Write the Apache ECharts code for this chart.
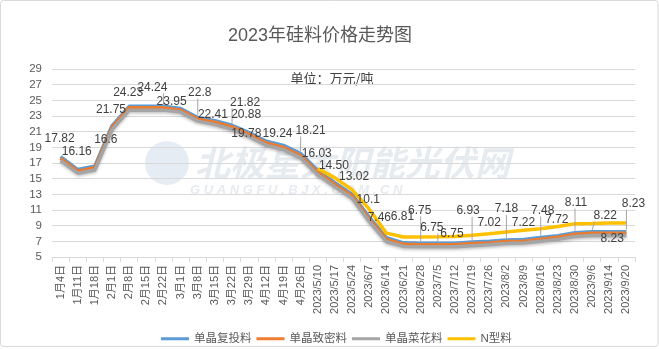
<!DOCTYPE html>
<html><head><meta charset="utf-8">
<script src="https://cdn.jsdelivr.net/npm/echarts/dist/echarts.min.js"></script>
<style>html,body{margin:0;padding:0;background:#fff}#c{width:659px;height:349px}</style>
</head><body><div id="c"></div>
<script>
const categories = ['1月4日','1月11日','1月18日','2月1日','2月8日','2月15日','2月22日','3月1日','3月8日','3月15日','3月22日','3月29日','4月12日','4月19日','4月26日','2023/5/10','2023/5/17','2023/5/24','2023/6/7','2023/6/14','2023/6/21','2023/6/28','2023/7/5','2023/7/12','2023/7/19','2023/7/26','2023/8/2','2023/8/9','2023/8/16','2023/8/23','2023/8/30','2023/9/6','2023/9/14','2023/9/20'];
const seriesNames = ['单晶复投料','单晶致密料','单晶菜花料','N型料'];
const fuTou = [17.82,16.16,16.6,21.75,24.23,24.24,24.24,23.95,22.8,22.41,21.82,20.88,19.78,19.24,18.21,16.03,14.50,13.02,10.1,7.46,6.81,6.75,6.75,6.75,6.93,7.02,7.18,7.22,7.48,7.72,8.11,8.22,8.23,8.23];
const zhiMi = [17.6,15.95,16.4,21.55,24.05,24.05,24.05,23.75,22.6,22.2,21.6,20.65,19.55,19.0,17.95,15.8,14.25,12.8,9.85,7.25,6.62,6.55,6.55,6.56,6.72,6.8,6.98,7.02,7.27,7.52,7.9,8.02,8.03,8.03];
const caiHua = [17.3,15.7,16.1,21.25,23.75,23.75,23.75,23.5,22.35,21.9,21.3,20.35,19.25,18.7,17.65,15.5,13.95,12.5,9.55,6.95,6.35,6.3,6.3,6.3,6.45,6.55,6.72,6.78,7.0,7.25,7.62,7.75,7.76,7.76];
const nType = [null,null,null,null,null,null,null,null,null,null,null,null,null,null,null,16.3,15.1,13.6,11.1,8.05,7.55,7.55,7.58,7.62,7.78,7.98,8.2,8.4,8.6,8.9,9.25,9.28,9.33,9.33];
const labelText = ['17.82','16.16','16.6','21.75','24.23','','24.24','23.95','22.8','22.41','21.82','20.88','19.78','19.24','18.21','16.03','14.50','13.02','10.1','7.46','6.81','6.75','6.75','6.75','6.93','7.02','7.18','7.22','7.48','7.72','8.11','8.22','8.23','8.23'];
const yTicks = {min:5, max:29, interval:2};

// label placement (style only)
const LABEL_OFFSETS = [[-1,-17.5],[-1,-17.5],[11,-26],[-1,-16],[-1,-14],[0,0],[-11,-19],[-9,-7],[2,-25],[-2,-6],[13,-23],[-3,-18],[-20,-8],[-6,-12],[10,-23],[-1,-17],[-1,-17],[2,-17],[-1,-17],[-7,-20],[-1,-26],[-1,-33],[-6,-16],[-3,-10],[-4,-31],[0,-18],[0,-31],[0,-17],[2,-27],[-1,-16],[1,-30],[13,-16],[3,7],[7,-28]];
const LEADERS = [6,8,10,14,21,22,24,26,28,30,31,33];

const FONT = "'Liberation Sans','Noto Sans CJK SC',sans-serif";
const chart = echarts.init(document.getElementById('c'), null, {renderer:'canvas'});
const colors = ['#5b9bd5','#ed7d31','#a5a5a5','#ffc000'];
function lineSeries(name, data, color, extra){
  return Object.assign({
    name, type:'line', data, symbol:'none', smooth:false, connectNulls:false,
    lineStyle:{color, width:3.5}, itemStyle:{color}, z:2, silent:true
  }, extra||{});
}
chart.setOption({
  animation:false,
  backgroundColor:'#fff',
  grid:{left:52, right:24, top:69, bottom:92, containLabel:false, outerBoundsMode:'none'},
  legend:{data:seriesNames.map(n=>({name:n, icon:'rect'})), left:156, top:328, itemWidth:28, itemHeight:3, itemGap:5,
    textStyle:{color:'#595959', fontSize:11.5, fontFamily:FONT}},
  xAxis:{type:'category', data:categories, boundaryGap:true,
    axisLine:{lineStyle:{color:'#d9d9d9'}},
    axisTick:{show:true, length:5, lineStyle:{color:'#d9d9d9'}},
    axisLabel:{interval:0, rotate:90, margin:8, color:'#595959', fontSize:11, fontFamily:FONT}},
  yAxis:{type:'value', min:yTicks.min, max:yTicks.max, interval:yTicks.interval,
    axisLine:{show:false}, axisTick:{show:false},
    splitLine:{lineStyle:{color:'#d9d9d9'}},
    axisLabel:{margin:10, color:'#595959', fontSize:11.5, fontFamily:FONT}},
  graphic:[
    {type:'rect', shape:{x:0.5,y:0.5,width:657.5,height:346,r:3}, style:{fill:'none', stroke:'#d9d9d9', lineWidth:1}, z:-1, silent:true},
    {type:'circle', shape:{cx:167, cy:163, r:22}, style:{fill:'rgba(200,212,228,0.45)'}, z:0, silent:true},
    {type:'text', style:{x:195, y:163, text:'北极星太阳能光伏网', font:"italic bold 35px 'Noto Sans CJK SC'", fill:'rgba(200,210,222,0.45)', verticalAlign:'middle'}, z:0, silent:true},
    {type:'text', style:{x:190, y:190, text:'G U A N G F U . B J X . C O M . C N', font:"italic bold 13px 'Liberation Sans'", fill:'rgba(200,210,222,0.45)', verticalAlign:'middle'}, z:0, silent:true},
    {type:'text', style:{x:320, y:36, text:'2023年硅料价格走势图', font:"18px 'Liberation Sans','Noto Sans CJK SC'", fill:'#595959', align:'center', verticalAlign:'middle'}, silent:true},
    {type:'text', style:{x:332, y:78, text:'单位：万元/吨', font:"13px 'Noto Sans CJK SC'", fill:'#404040', align:'center', verticalAlign:'middle'}, silent:true}
  ],
  series:[
    lineSeries(seriesNames[0], fuTou, colors[0]),
    lineSeries(seriesNames[1], zhiMi, colors[1]),
    lineSeries(seriesNames[2], caiHua, colors[2], {lineStyle:{color:colors[2], width:3.5, shadowColor:'rgba(0,0,0,0.25)', shadowBlur:3, shadowOffsetY:1.5}}),
    lineSeries(seriesNames[3], nType, colors[3]),
    {
      name:'leaders', type:'custom', z:9, silent:true,
      data: LEADERS.map(i=>[i, fuTou[i]]),
      renderItem:(params, api)=>{
        const i = api.value(0);
        const p = api.coord([i, api.value(1)]);
        const off = LABEL_OFFSETS[i];
        const w = labelText[i].length*6.2, lx = p[0]+off[0], ly = p[1]+off[1];
        const tx = Math.max(lx-w/2+2, Math.min(lx+w/2-2, p[0]));
        const above = off[1] < 0;
        const ty = above ? ly+6 : ly-6;
        return {type:'line', shape:{x1:tx, y1:ty, x2:p[0], y2:p[1]+(above?-2:2)},
          style:{stroke:'#a6a6a6', lineWidth:1}};
      }
    },
    {
      name:'labels', type:'line', z:10, silent:true,
      symbol:'circle', symbolSize:2, showSymbol:true,
      itemStyle:{color:'rgba(0,0,0,0)'},
      lineStyle:{opacity:0, width:0},
      data: fuTou,
      label:{show:true, position:'inside', color:'#404040', fontSize:12, fontFamily:FONT,
        formatter:p=>labelText[p.dataIndex]},
      labelLayout:p=>({dx:LABEL_OFFSETS[p.dataIndex][0], dy:LABEL_OFFSETS[p.dataIndex][1]})
    }
  ]
});
</script></body></html>
